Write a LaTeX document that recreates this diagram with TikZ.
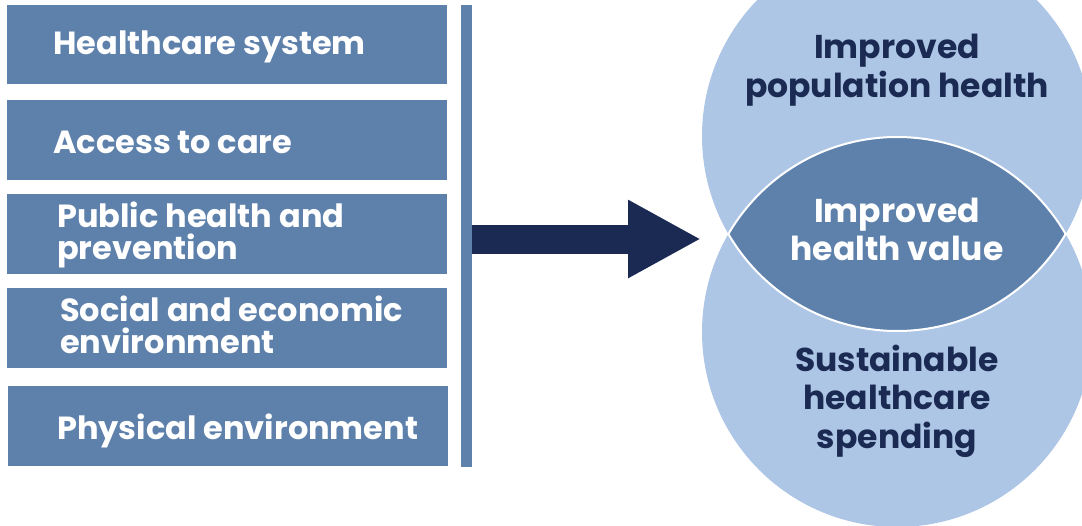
\documentclass[tikz,border=0pt]{standalone}
\usepackage{fontspec}
\setmainfont{Poppins}[UprightFont=* Bold, BoldFont=* Bold]
\usetikzlibrary{arrows.meta}
\definecolor{boxblue}{HTML}{5E81AC}
\definecolor{lightblue}{HTML}{AEC6E6}
\definecolor{navy}{HTML}{1B2A53}
\begin{document}
\begin{tikzpicture}[x=1pt,y=-1pt,
  box/.style={fill=boxblue, draw=none, minimum width=440pt, minimum height=79.5pt, inner sep=0pt},
  lbl/.style={text=white, inner sep=0pt, align=left, font=\fontsize{32}{32}\selectfont},
  rlbl/.style={text=navy, inner sep=0pt, align=center, font=\fontsize{33}{38.5}\selectfont},
  mlbl/.style={text=white, inner sep=0pt, align=center, font=\fontsize{33}{38}\selectfont}]
\useasboundingbox (0,0) rectangle (1082,525);
% circles
\begin{scope}
  \clip (0,0) rectangle (1082,525);
  \fill[lightblue] (897,136) circle[radius=195];
  \fill[lightblue] (897,332) circle[radius=195];
  \begin{scope}
    \clip (897,136) circle[radius=195];
    \fill[boxblue] (897,332) circle[radius=195];
    \draw[white, line width=2pt] (897,332) circle[radius=195];
  \end{scope}
  \begin{scope}
    \clip (897,332) circle[radius=195];
    \draw[white, line width=2pt] (897,136) circle[radius=195];
  \end{scope}
\end{scope}
% boxes
\node[box] (b1) at (227,44.5) {};
\node[box] (b2) at (227,140) {};
\node[box] (b3) at (227,234) {};
\node[box] (b4) at (227,328) {};
\node[box] (b5) at (228,426) {};
\node[lbl, anchor=base west] (t1) at (53,54) {Healthcare system};
\node[lbl, anchor=base west] (t2) at (53,153) {Access to care};
\node[lbl, anchor=base west] (t3) at (57,259) {Public health and\\prevention};
\node[lbl, anchor=base west] (t4) at (60,353) {Social and economic\\environment};
\node[lbl, anchor=base west] (t5) at (57,439) {Physical environment};
% vertical bar
\node[fill=boxblue, inner sep=0pt, minimum width=10.5pt, minimum height=462pt] (bar) at (466.5,236) {};
% arrow
\coordinate (tip) at (701,239);
\draw[navy, line width=29pt, -{Triangle[length=73pt, width=73pt]}] (bar.east |- tip) -- (tip);
% circle texts
\node[rlbl, anchor=base] (top) at (897,97) {Improved\\population health};
\node[mlbl, anchor=base] (mid) at (897,260) {Improved\\health value};
\node[rlbl, anchor=base] (bot) at (897,448) {Sustainable\\healthcare\\spending};
\end{tikzpicture}
\end{document}
